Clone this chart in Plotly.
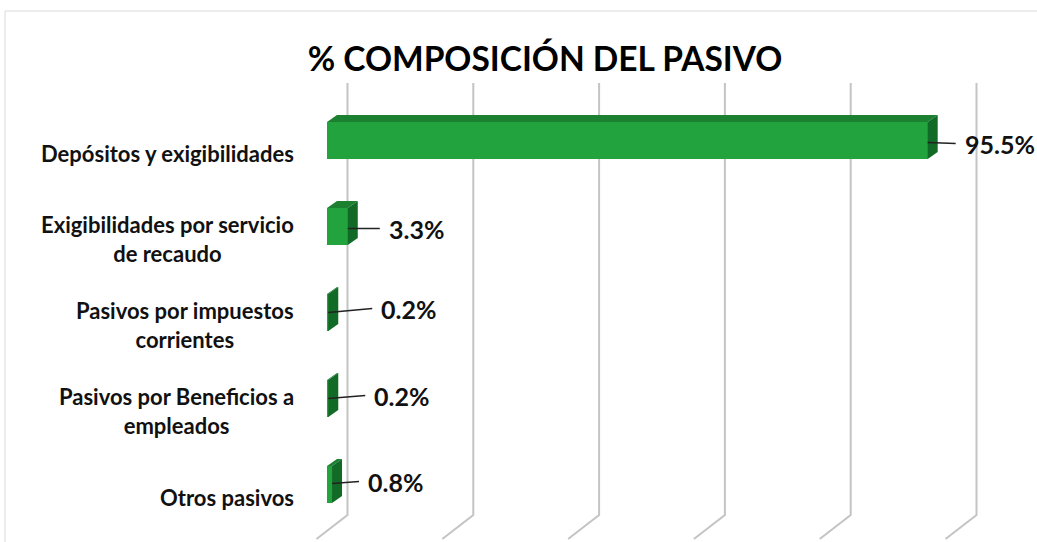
import plotly.graph_objects as go

# ---- data ----
categories = [
    "Depósitos y exigibilidades",
    "Exigibilidades por servicio<br>de recaudo",
    "Pasivos por impuestos<br>corrientes",
    "Pasivos por Beneficios a<br>empleados",
    "Otros pasivos",
]
values = [95.5, 3.3, 0.2, 0.2, 0.8]
value_labels = ["95.5%", "3.3%", "0.2%", "0.2%", "0.8%"]
grid_ticks = [0, 20, 40, 60, 80, 100]
title_text = "% COMPOSICIÓN DEL PASIVO"

# ---- layout geometry (pixels) ----
W, H = 1037, 542
PL, PR, PT, PB = 300, 1037, 80, 542
K = 6.29            # px per percentage unit
X0_PX = 327         # px of value 0 (front face)
ROW = 86            # px per category
Y0_PX = 140.5       # px of first category (front face centre)
xmin = -(X0_PX - PL) / K
xmax = xmin + (PR - PL) / K
ytop = (PT - Y0_PX) / ROW
ybot = (PB - Y0_PX) / ROW


def py(p):
    return ytop + (p - PT) / ROW


BAR_H = 37 / ROW
DX = 10 / K
DY = -7 / ROW
WALL_DX = 20.5 / K

FRONT = "#22A33D"
TOP = "#1B8131"
SIDE = "#126A27"
GRID = "#C4C4C4"
FONT = "Lato"

PAD = 8
label_ax = [28, 32, 44, 37, 27]
label_ay = [1, 0, -4, -3, -2]
label_dy = [2, 2, 0, 0, -1]

ypos = list(range(len(values)))

fig = go.Figure()
fig.add_trace(go.Bar(
    x=values, y=ypos, orientation="h", width=BAR_H,
    marker=dict(color=FRONT, line=dict(width=0)),
    hoverinfo="skip", showlegend=False,
))

shapes = []
# back wall + floor gridlines
for t in grid_ticks:
    xb = t + WALL_DX
    path = (f"M {xb},{py(83)} L {xb},{py(515)} "
            f"L {xb - 31 / K},{py(539)}")
    shapes.append(dict(type="path", path=path, xref="x", yref="y",
                       line=dict(color=GRID, width=2), layer="below"))

# 3D faces of bars
for i, v in enumerate(values):
    top = i - BAR_H / 2
    bot = i + BAR_H / 2
    top_path = (f"M 0,{top} L {v},{top} L {v + DX},{top + DY} "
                f"L {DX},{top + DY} Z")
    side_path = (f"M {v},{top} L {v + DX},{top + DY} "
                 f"L {v + DX},{bot + DY} L {v},{bot} Z")
    shapes.append(dict(type="path", path=top_path, xref="x", yref="y",
                       fillcolor=TOP, line=dict(width=0), layer="above"))
    shapes.append(dict(type="path", path=side_path, xref="x", yref="y",
                       fillcolor=SIDE, line=dict(width=0), layer="above"))

# chart border
shapes.append(dict(type="rect", xref="paper", yref="paper",
                   x0=(5 - PL) / (PR - PL), x1=(1045 - PL) / (PR - PL),
                   y0=(PB - 548) / (PB - PT), y1=(PB - 11) / (PB - PT),
                   line=dict(color="#D9D9D9", width=1), layer="below"))

annotations = []
# category labels
for i, c in enumerate(categories):
    annotations.append(dict(
        text=c, xref="paper", yref="y", x=0, y=i + 12.5 / ROW,
        xanchor="right", yanchor="middle", xshift=-4, align="center",
        showarrow=False,
        font=dict(family=FONT, size=22, color="#111111", weight="bold"),
    ))

# data labels with leader lines
for i, (v, t) in enumerate(zip(values, value_labels)):
    annotations.append(dict(
        text=t, x=v, y=i + label_dy[i] / ROW, xref="x", yref="y",
        showarrow=True, arrowhead=0, arrowwidth=1.5, arrowcolor="#222222",
        ax=label_ax[i], ay=label_ay[i], xanchor="left", yanchor="middle",
        borderpad=PAD,
        font=dict(family=FONT, size=25, color="#111111", weight="bold"),
    ))

fig.update_layout(
    width=W, height=H,
    margin=dict(l=PL, r=W - PR, t=PT, b=H - PB, pad=0),
    paper_bgcolor="white", plot_bgcolor="white",
    title=dict(text=title_text, x=545 / W, xref="container", xanchor="center",
               y=1 - 59 / H, yref="container", yanchor="middle",
               font=dict(family=FONT, size=33.5, color="#000000", weight="bold")),
    xaxis=dict(range=[xmin, xmax], visible=False, showgrid=False, zeroline=False),
    yaxis=dict(range=[ybot, ytop], visible=False, showgrid=False, zeroline=False),
    shapes=shapes, annotations=annotations,
    bargap=0,
)

fig.write_html("out.html", config={"displayModeBar": False},
               post_script="document.body.style.margin='0';")
